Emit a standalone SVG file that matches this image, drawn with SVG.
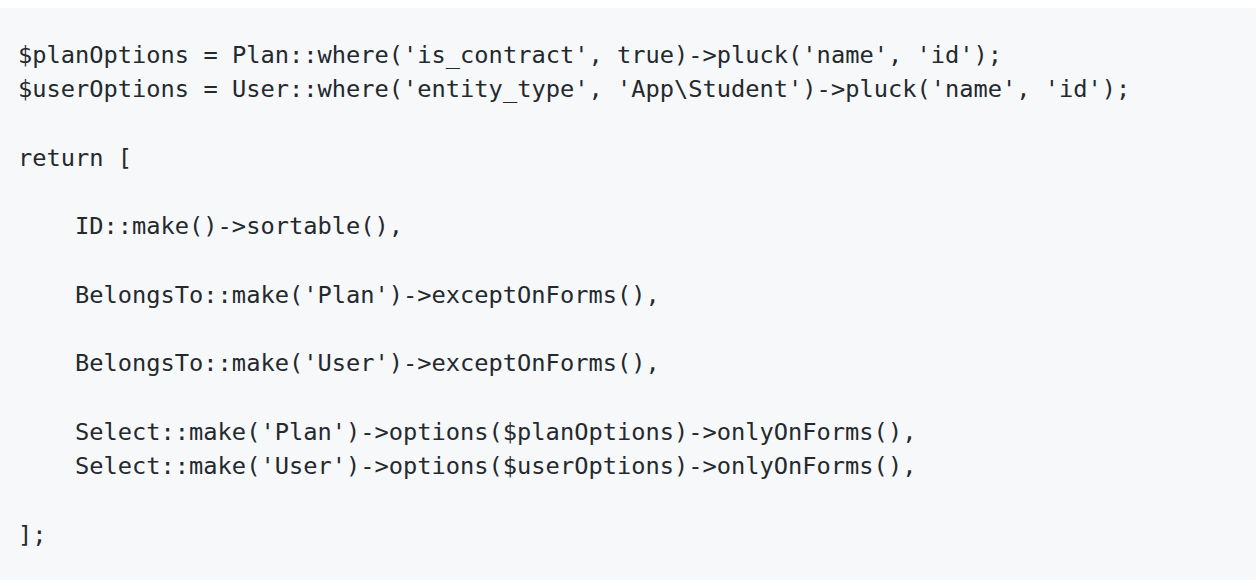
<svg xmlns="http://www.w3.org/2000/svg" width="1256" height="584" viewBox="0 0 1256 584">
<style>
.code{font-family:"DejaVu Sans Mono","Liberation Mono",monospace;font-size:23.7px;fill:#24292e;white-space:pre}
</style>
<rect x="0" y="0" width="1256" height="584" fill="#ffffff"/>
<rect id="codeblock" x="0" y="8" width="1256" height="572" fill="#f6f8fa"/>
<g id="code" class="code">
<text x="18" y="63">$planOptions = Plan::where('is_contract', true)-&gt;pluck('name', 'id');</text>
<text x="18" y="97">$userOptions = User::where('entity_type', 'App\Student')-&gt;pluck('name', 'id');</text>
<text x="18" y="166">return [</text>
<text x="75" y="234">ID::make()-&gt;sortable(),</text>
<text x="75" y="303">BelongsTo::make('Plan')-&gt;exceptOnForms(),</text>
<text x="75" y="371">BelongsTo::make('User')-&gt;exceptOnForms(),</text>
<text x="75" y="440">Select::make('Plan')-&gt;options($planOptions)-&gt;onlyOnForms(),</text>
<text x="75" y="474">Select::make('User')-&gt;options($userOptions)-&gt;onlyOnForms(),</text>
<text x="18" y="543">];</text>
</g>
</svg>
